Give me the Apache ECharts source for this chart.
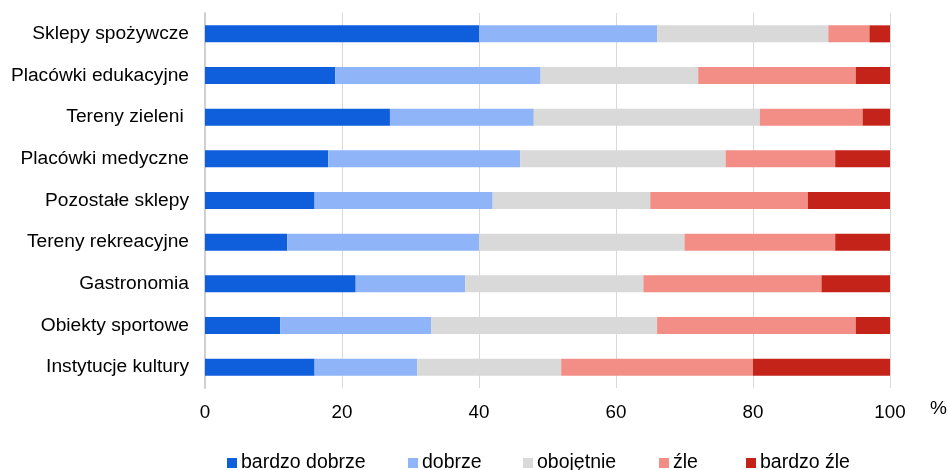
<!DOCTYPE html>
<html>
<head>
<meta charset="utf-8">
<script src="https://cdn.jsdelivr.net/npm/echarts@6/dist/echarts.min.js"></script>
<style>
html,body{margin:0;padding:0;background:#fff;}
#chart{width:948px;height:470px;}
</style>
</head>
<body>
<div id="chart"></div>
<script>
const categories = ["Sklepy spożywcze","Placówki edukacyjne","Tereny zieleni ","Placówki medyczne","Pozostałe sklepy","Tereny rekreacyjne","Gastronomia","Obiekty sportowe","Instytucje kultury"];
const seriesNames = ["bardzo dobrze","dobrze","obojętnie","źle","bardzo źle"];
const bardzoDobrze = [40,19,27,18,16,12,22,11,16];
const dobrze       = [26,30,21,28,26,28,16,22,15];
const obojetnie    = [25,23,33,30,23,30,26,33,21];
const zle          = [6,23,15,16,23,22,26,29,28];
const bardzoZle    = [3,5,4,8,12,8,10,5,20];
const xTicks = [0,20,40,60,80,100];

const colors = ["#0f5edb","#8fb5f8","#d9d9d9","#f28e86","#c32318"];
const values = [bardzoDobrze,dobrze,obojetnie,zle,bardzoZle];
const legendLefts = [227,408,523,659,746];
const font = "Liberation Sans, Arial, sans-serif";

const chart = echarts.init(document.getElementById('chart'));
chart.setOption({
  animation:false,
  color:colors,
  textStyle:{fontFamily:font},
  grid:{left:205,right:58,top:13,bottom:82,containLabel:false,outerBoundsMode:'none'},
  legend:seriesNames.map((n,i)=>({
    top:453,left:legendLefts[i],padding:0,itemWidth:10,itemHeight:10,
    icon:'rect',
    textStyle:{fontFamily:font,fontSize:19.5,color:'#000',padding:[0,0,0,-1]},
    data:[n]
  })),
  xAxis:{
    type:'value',min:xTicks[0],max:xTicks[xTicks.length-1],interval:20,
    axisLine:{show:false},axisTick:{show:false},
    splitLine:{lineStyle:{color:'#d9d9d9',width:1}},
    axisLabel:{color:'#000',fontSize:18.8,fontFamily:font,margin:15},
    name:'%',nameLocation:'end',nameGap:40,
    nameTextStyle:{color:'#000',fontSize:19,fontFamily:font,verticalAlign:'top',padding:[11,0,0,0]}
  },
  yAxis:{
    type:'category',data:categories,inverse:true,
    axisLine:{show:true,lineStyle:{color:'#d0d0d0',width:2}},
    axisTick:{show:false},
    axisLabel:{color:'#000',fontSize:19.2,fontFamily:font,margin:16}
  },
  series:seriesNames.map((n,i)=>({
    name:n,type:'bar',stack:'total',barWidth:17,
    data:values[i],
    itemStyle:{color:colors[i]}
  }))
});
</script>
</body>
</html>
